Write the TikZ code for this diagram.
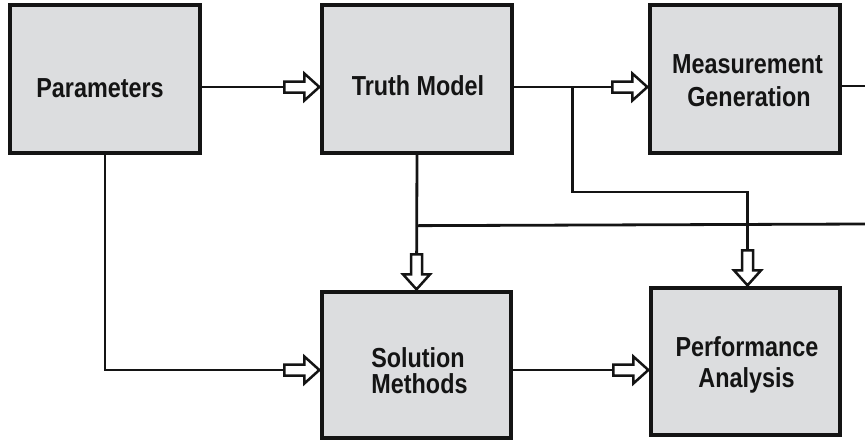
\documentclass[tikz,border=0pt]{standalone}
\usepackage{fontspec}
\newfontfamily\boxfont[FakeStretch=0.85]{Liberation Sans}
\definecolor{boxgray}{RGB}{220,221,223}
\definecolor{inkc}{RGB}{20,20,20}
\begin{document}
\begin{tikzpicture}[
  x=1pt, y=-1pt,
  box/.style={draw=inkc, line width=3.3pt, fill=boxgray, minimum width=190pt, minimum height=148pt, inner sep=0pt},
  lbl/.style={anchor=base, font=\boxfont\bfseries\fontsize{27.5}{30}\selectfont, inner sep=0pt, text=inkc},
  conn/.style={line width=2.8pt, draw=inkc},
  harrow/.pic={\filldraw[line width=2.5pt, fill=white, draw=inkc, line join=miter]
     (-36,5.5) -- (-16,5.5) -- (-16,13.5) -- (-1,0) -- (-16,-13.5) -- (-16,-5.5) -- (-36,-5.5) -- cycle;}
]
\useasboundingbox (0,0) rectangle (865,440);

% boxes
\node[box] (P) at (105,79) {};
\node[box] (T) at (417,79) {};
\node[box] (M) at (745,79) {};
\node[box, minimum width=189pt, minimum height=146pt] (S) at (416.5,365) {};
\node[box, minimum width=189pt, minimum height=147pt] (A) at (745.5,361.5) {};

% labels
\node[lbl] (Pt) at (100,97) {Parameters};
\node[lbl] (Tt) at (418,95.5) {Truth Model};
\node[lbl] (Mt1) at (747.5,73.5) {Measurement};
\node[lbl] (Mt2) at (749,106) {Generation};
\node[lbl] (St1) at (418,367) {Solution};
\node[lbl] (St2) at (419.5,393) {Methods};
\node[lbl] (At1) at (747,356) {Performance};
\node[lbl] (At2) at (746.5,387) {Analysis};

% free ends and junctions
\coordinate (out1) at (865,86);
\coordinate (out2) at (865,224);
\coordinate (br) at ([xshift=59pt,yshift=-8pt]T.east);
\coordinate (jn) at ([yshift=-71pt]T.south);
\coordinate (atop) at ([xshift=2pt]A.north);

% connectors
\draw[conn] ([yshift=-8pt]P.east) -- ([yshift=-8pt]T.west);
\draw[conn] ([yshift=-8pt]T.east) -- ([yshift=-8pt]M.west);
\draw[conn] ([yshift=-7pt]M.east) -- (out1);
\draw[conn] (br) -- ++(0,105) -| (atop);
\draw[conn] (T.south) -- (S.north);
\draw[conn] (jn) -- (out2);
\draw[conn] (P.south) |- ([yshift=-5pt]S.west);
\draw[conn] ([yshift=-5pt]S.east) -- ([yshift=-8.5pt]A.west);

% hollow arrowheads
\pic at ([yshift=-8pt]T.west) {harrow};
\pic at ([yshift=-8pt]M.west) {harrow};
\pic[rotate=-90] at (atop) {harrow};
\pic[rotate=-90] at (S.north) {harrow};
\pic at ([yshift=-5pt]S.west) {harrow};
\pic at ([yshift=-8.5pt]A.west) {harrow};
\end{tikzpicture}
\end{document}
